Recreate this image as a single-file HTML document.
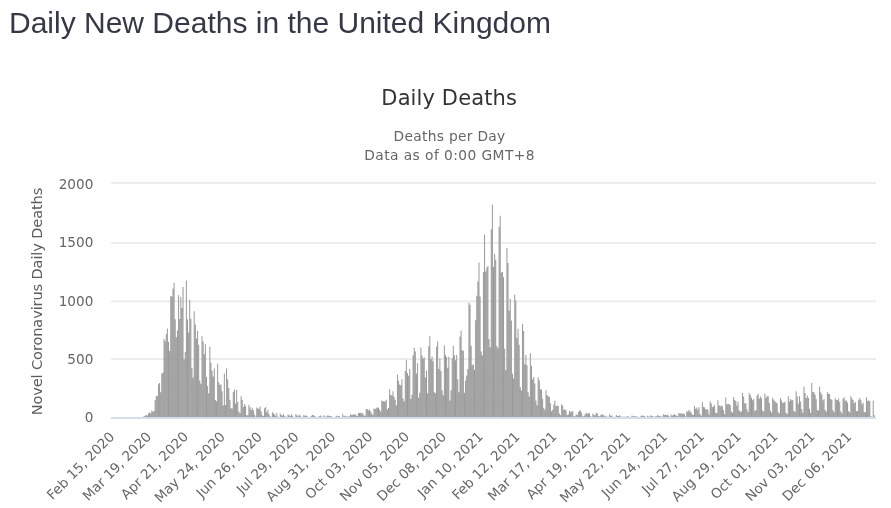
<!DOCTYPE html>
<html lang="en">
<head>
<meta charset="utf-8">
<title>Daily New Deaths in the United Kingdom</title>
<style>
html,body{margin:0;padding:0;background:#fff;}
body{width:891px;height:508px;overflow:hidden;position:relative;font-family:"Liberation Sans",Arial,sans-serif;}
h3{position:absolute;left:9px;top:5.7px;margin:0;font-family:"Liberation Sans",Arial,sans-serif;font-weight:400;font-size:30px;line-height:34px;color:#363945;white-space:nowrap;}
svg{position:absolute;left:0;top:0;font-family:"DejaVu Sans","Liberation Sans",sans-serif;}
.bars rect{fill:#999999;}
.ax text{font-size:13.6px;fill:#666666;}
</style>
</head>
<body>
<h3>Daily New Deaths in the United Kingdom</h3>
<svg width="891" height="508" viewBox="0 0 891 508">
<g class="grid">
<rect x="111.0" y="358.00" width="765.0" height="2" fill="#ececec"/>
<rect x="111.0" y="300.30" width="765.0" height="2" fill="#ececec"/>
<rect x="111.0" y="242.00" width="765.0" height="2" fill="#ececec"/>
<rect x="111.0" y="181.90" width="765.0" height="2" fill="#ececec"/>
</g>
<g class="bars">
<path fill="#999999" d="M133.39 417.3v-0.12h1.0v0.12zM134.51 417.3v-0.12h1.0v0.12zM136.74 417.3v-0.12h1.0v0.12zM137.86 417.3v-0.12h1.0v0.12zM138.98 417.3v-0.23h1.0v0.23zM140.09 417.3v-0.12h1.0v0.12zM141.21 417.3v-0.23h1.0v0.23zM142.33 417.3v-0.12h1.0v0.12zM143.45 417.3v-1.17h1.0v1.17zM144.56 417.3v-1.64h1.0v1.64zM145.68 417.3v-2.34h1.0v2.34zM146.80 417.3v-1.87h1.0v1.87zM147.91 417.3v-3.85h1.0v3.85zM149.03 417.3v-4.79h1.0v4.79zM150.15 417.3v-3.85h1.0v3.85zM151.26 417.3v-6.54h1.0v6.54zM152.38 417.3v-5.61h1.0v5.61zM153.50 417.3v-6.31h1.0v6.31zM154.61 417.3v-17.29h1.0v17.29zM155.73 417.3v-21.49h1.0v21.49zM156.85 417.3v-21.37h1.0v21.37zM157.96 417.3v-33.17h1.0v33.17zM159.08 417.3v-34.34h1.0v34.34zM160.20 417.3v-25.00h1.0v25.00zM161.31 417.3v-43.68h1.0v43.68zM162.43 417.3v-44.62h1.0v44.62zM163.55 417.3v-78.26h1.0v78.26zM164.66 417.3v-76.15h1.0v76.15zM165.78 417.3v-83.40h1.0v83.40zM166.90 417.3v-88.77h1.0v88.77zM168.01 417.3v-75.22h1.0v75.22zM169.13 417.3v-66.34h1.0v66.34zM170.25 417.3v-121.24h1.0v121.24zM171.36 417.3v-120.77h1.0v120.77zM172.48 417.3v-128.83h1.0v128.83zM173.60 417.3v-134.55h1.0v134.55zM174.72 417.3v-98.00h1.0v98.00zM175.83 417.3v-80.12h1.0v80.12zM176.95 417.3v-86.90h1.0v86.90zM178.07 417.3v-121.94h1.0v121.94zM179.18 417.3v-98.35h1.0v98.35zM180.30 417.3v-120.19h1.0v120.19zM181.42 417.3v-109.21h1.0v109.21zM182.53 417.3v-130.23h1.0v130.23zM183.65 417.3v-58.17h1.0v58.17zM184.77 417.3v-65.29h1.0v65.29zM185.88 417.3v-136.89h1.0v136.89zM187.00 417.3v-97.76h1.0v97.76zM188.12 417.3v-84.91h1.0v84.91zM189.23 417.3v-117.38h1.0v117.38zM190.35 417.3v-98.46h1.0v98.46zM191.47 417.3v-49.06h1.0v49.06zM192.58 417.3v-39.48h1.0v39.48zM193.70 417.3v-106.17h1.0v106.17zM194.82 417.3v-92.86h1.0v92.86zM195.93 417.3v-78.72h1.0v78.72zM197.05 417.3v-86.32h1.0v86.32zM198.17 417.3v-72.53h1.0v72.53zM199.28 417.3v-36.79h1.0v36.79zM200.40 417.3v-33.64h1.0v33.64zM201.52 417.3v-80.94h1.0v80.94zM202.64 417.3v-75.80h1.0v75.80zM203.75 417.3v-62.96h1.0v62.96zM204.87 417.3v-73.12h1.0v73.12zM205.99 417.3v-40.41h1.0v40.41zM207.10 417.3v-31.42h1.0v31.42zM208.22 417.3v-24.06h1.0v24.06zM209.34 417.3v-70.66h1.0v70.66zM210.45 417.3v-54.66h1.0v54.66zM211.57 417.3v-46.49h1.0v46.49zM212.69 417.3v-40.88h1.0v40.88zM213.80 417.3v-48.82h1.0v48.82zM214.92 417.3v-17.40h1.0v17.40zM216.04 417.3v-16.00h1.0v16.00zM217.15 417.3v-53.49h1.0v53.49zM218.27 417.3v-35.16h1.0v35.16zM219.39 417.3v-32.24h1.0v32.24zM220.50 417.3v-32.94h1.0v32.94zM221.62 417.3v-26.05h1.0v26.05zM222.74 417.3v-11.68h1.0v11.68zM223.85 417.3v-43.57h1.0v43.57zM224.97 417.3v-12.26h1.0v12.26zM226.09 417.3v-49.06h1.0v49.06zM227.20 417.3v-37.96h1.0v37.96zM228.32 417.3v-29.20h1.0v29.20zM229.44 417.3v-17.52h1.0v17.52zM230.55 417.3v-9.11h1.0v9.11zM231.67 417.3v-8.88h1.0v8.88zM232.79 417.3v-25.35h1.0v25.35zM233.91 417.3v-27.80h1.0v27.80zM235.02 417.3v-13.55h1.0v13.55zM236.14 417.3v-27.21h1.0v27.21zM237.26 417.3v-15.42h1.0v15.42zM238.37 417.3v-5.72h1.0v5.72zM239.49 417.3v-4.09h1.0v4.09zM240.61 417.3v-21.02h1.0v21.02zM241.72 417.3v-17.29h1.0v17.29zM242.84 417.3v-10.28h1.0v10.28zM243.96 417.3v-13.20h1.0v13.20zM245.07 417.3v-11.21h1.0v11.21zM246.19 417.3v-2.10h1.0v2.10zM247.31 417.3v-2.10h1.0v2.10zM248.42 417.3v-12.50h1.0v12.50zM249.54 417.3v-9.93h1.0v9.93zM250.66 417.3v-7.36h1.0v7.36zM251.77 417.3v-9.58h1.0v9.58zM252.89 417.3v-7.12h1.0v7.12zM254.01 417.3v-2.45h1.0v2.45zM255.12 417.3v-0.82h1.0v0.82zM256.24 417.3v-9.81h1.0v9.81zM257.36 417.3v-8.88h1.0v8.88zM258.47 417.3v-8.64h1.0v8.64zM259.59 417.3v-10.86h1.0v10.86zM260.71 417.3v-5.84h1.0v5.84zM261.82 417.3v-2.10h1.0v2.10zM262.94 417.3v-1.40h1.0v1.40zM264.06 417.3v-9.11h1.0v9.11zM265.18 417.3v-10.28h1.0v10.28zM266.29 417.3v-5.14h1.0v5.14zM267.41 417.3v-7.24h1.0v7.24zM268.53 417.3v-3.27h1.0v3.27zM269.64 417.3v-0.93h1.0v0.93zM270.76 417.3v-0.58h1.0v0.58zM271.88 417.3v-5.02h1.0v5.02zM272.99 417.3v-4.09h1.0v4.09zM274.11 417.3v-2.69h1.0v2.69zM275.23 417.3v-1.52h1.0v1.52zM276.34 417.3v-4.44h1.0v4.44zM277.46 417.3v-0.58h1.0v0.58zM278.58 417.3v-0.35h1.0v0.35zM279.69 417.3v-3.85h1.0v3.85zM280.81 417.3v-2.34h1.0v2.34zM281.93 417.3v-1.87h1.0v1.87zM283.04 417.3v-3.15h1.0v3.15zM284.16 417.3v-1.05h1.0v1.05zM285.28 417.3v-0.70h1.0v0.70zM286.39 417.3v-0.23h1.0v0.23zM287.51 417.3v-2.92h1.0v2.92zM288.63 417.3v-1.99h1.0v1.99zM289.74 417.3v-1.40h1.0v1.40zM290.86 417.3v-3.15h1.0v3.15zM291.98 417.3v-1.52h1.0v1.52zM293.09 417.3v-0.35h1.0v0.35zM294.21 417.3v-0.12h1.0v0.12zM295.33 417.3v-2.92h1.0v2.92zM296.45 417.3v-1.99h1.0v1.99zM297.56 417.3v-0.93h1.0v0.93zM298.68 417.3v-2.80h1.0v2.80zM299.80 417.3v-1.52h1.0v1.52zM300.91 417.3v-0.58h1.0v0.58zM302.03 417.3v-0.12h1.0v0.12zM303.15 417.3v-2.10h1.0v2.10zM304.26 417.3v-1.64h1.0v1.64zM305.38 417.3v-2.10h1.0v2.10zM306.50 417.3v-1.40h1.0v1.40zM307.61 417.3v-0.35h1.0v0.35zM308.73 417.3v-0.58h1.0v0.58zM309.85 417.3v-0.12h1.0v0.12zM310.96 417.3v-1.52h1.0v1.52zM312.08 417.3v-2.34h1.0v2.34zM313.20 417.3v-2.10h1.0v2.10zM314.31 417.3v-1.28h1.0v1.28zM315.43 417.3v-0.35h1.0v0.35zM316.55 417.3v-0.58h1.0v0.58zM317.66 417.3v-0.35h1.0v0.35zM318.78 417.3v-1.40h1.0v1.40zM319.90 417.3v-1.87h1.0v1.87zM321.01 417.3v-0.70h1.0v0.70zM322.13 417.3v-0.23h1.0v0.23zM323.25 417.3v-2.10h1.0v2.10zM324.36 417.3v-0.70h1.0v0.70zM325.48 417.3v-0.47h1.0v0.47zM326.60 417.3v-1.87h1.0v1.87zM327.72 417.3v-1.87h1.0v1.87zM328.83 417.3v-1.40h1.0v1.40zM329.95 417.3v-1.05h1.0v1.05zM331.07 417.3v-1.40h1.0v1.40zM332.18 417.3v-0.12h1.0v0.12zM333.30 417.3v-0.23h1.0v0.23zM334.42 417.3v-0.35h1.0v0.35zM335.53 417.3v-1.17h1.0v1.17zM336.65 417.3v-1.52h1.0v1.52zM337.77 417.3v-1.17h1.0v1.17zM338.88 417.3v-1.40h1.0v1.40zM340.00 417.3v-0.23h1.0v0.23zM341.12 417.3v-0.35h1.0v0.35zM342.23 417.3v-3.50h1.0v3.50zM343.35 417.3v-0.93h1.0v0.93zM344.47 417.3v-1.64h1.0v1.64zM345.58 417.3v-0.70h1.0v0.70zM346.70 417.3v-1.05h1.0v1.05zM347.82 417.3v-0.58h1.0v0.58zM348.93 417.3v-1.05h1.0v1.05zM350.05 417.3v-3.15h1.0v3.15zM351.17 417.3v-2.34h1.0v2.34zM352.28 417.3v-2.45h1.0v2.45zM353.40 417.3v-3.15h1.0v3.15zM354.52 417.3v-3.15h1.0v3.15zM355.64 417.3v-2.10h1.0v2.10zM356.75 417.3v-1.28h1.0v1.28zM357.87 417.3v-4.32h1.0v4.32zM358.99 417.3v-4.32h1.0v4.32zM360.10 417.3v-4.67h1.0v4.67zM361.22 417.3v-4.09h1.0v4.09zM362.34 417.3v-3.97h1.0v3.97zM363.45 417.3v-1.99h1.0v1.99zM364.57 417.3v-1.52h1.0v1.52zM365.69 417.3v-8.29h1.0v8.29zM366.80 417.3v-8.29h1.0v8.29zM367.92 417.3v-6.89h1.0v6.89zM369.04 417.3v-7.71h1.0v7.71zM370.15 417.3v-5.72h1.0v5.72zM371.27 417.3v-3.85h1.0v3.85zM372.39 417.3v-2.22h1.0v2.22zM373.50 417.3v-8.88h1.0v8.88zM374.62 417.3v-8.18h1.0v8.18zM375.74 417.3v-8.99h1.0v8.99zM376.85 417.3v-10.16h1.0v10.16zM377.97 417.3v-9.46h1.0v9.46zM379.09 417.3v-7.59h1.0v7.59zM380.20 417.3v-5.84h1.0v5.84zM381.32 417.3v-16.70h1.0v16.70zM382.44 417.3v-16.00h1.0v16.00zM383.55 417.3v-16.12h1.0v16.12zM384.67 417.3v-15.88h1.0v15.88zM385.79 417.3v-17.52h1.0v17.52zM386.91 417.3v-7.83h1.0v7.83zM388.02 417.3v-9.34h1.0v9.34zM389.14 417.3v-28.15h1.0v28.15zM390.26 417.3v-22.31h1.0v22.31zM391.37 417.3v-22.08h1.0v22.08zM392.49 417.3v-26.16h1.0v26.16zM393.61 417.3v-20.32h1.0v20.32zM394.72 417.3v-17.64h1.0v17.64zM395.84 417.3v-11.91h1.0v11.91zM396.96 417.3v-42.87h1.0v42.87zM398.07 417.3v-36.21h1.0v36.21zM399.19 417.3v-32.70h1.0v32.70zM400.31 417.3v-32.00h1.0v32.00zM401.42 417.3v-38.08h1.0v38.08zM402.54 417.3v-18.92h1.0v18.92zM403.66 417.3v-15.88h1.0v15.88zM404.77 417.3v-46.37h1.0v46.37zM405.89 417.3v-57.47h1.0v57.47zM407.01 417.3v-44.15h1.0v44.15zM408.12 417.3v-41.46h1.0v41.46zM409.24 417.3v-48.24h1.0v48.24zM410.36 417.3v-18.22h1.0v18.22zM411.47 417.3v-22.66h1.0v22.66zM412.59 417.3v-62.14h1.0v62.14zM413.71 417.3v-69.50h1.0v69.50zM414.82 417.3v-65.76h1.0v65.76zM415.94 417.3v-43.92h1.0v43.92zM417.06 417.3v-53.96h1.0v53.96zM418.18 417.3v-19.62h1.0v19.62zM419.29 417.3v-24.88h1.0v24.88zM420.41 417.3v-69.85h1.0v69.85zM421.53 417.3v-61.79h1.0v61.79zM422.64 417.3v-58.52h1.0v58.52zM423.76 417.3v-59.68h1.0v59.68zM424.88 417.3v-39.83h1.0v39.83zM425.99 417.3v-46.49h1.0v46.49zM427.11 417.3v-24.06h1.0v24.06zM428.23 417.3v-71.01h1.0v71.01zM429.34 417.3v-81.29h1.0v81.29zM430.46 417.3v-58.17h1.0v58.17zM431.58 417.3v-60.85h1.0v60.85zM432.69 417.3v-55.95h1.0v55.95zM433.81 417.3v-25.11h1.0v25.11zM434.93 417.3v-23.94h1.0v23.94zM436.04 417.3v-70.43h1.0v70.43zM437.16 417.3v-75.69h1.0v75.69zM438.28 417.3v-48.36h1.0v48.36zM439.39 417.3v-58.87h1.0v58.87zM440.51 417.3v-46.37h1.0v46.37zM441.63 417.3v-26.98h1.0v26.98zM442.74 417.3v-22.08h1.0v22.08zM443.86 417.3v-71.95h1.0v71.95zM444.98 417.3v-62.25h1.0v62.25zM446.09 417.3v-60.27h1.0v60.27zM447.21 417.3v-49.52h1.0v49.52zM448.33 417.3v-60.62h1.0v60.62zM449.45 417.3v-16.82h1.0v16.82zM450.56 417.3v-27.10h1.0v27.10zM451.68 417.3v-59.10h1.0v59.10zM452.80 417.3v-71.48h1.0v71.48zM453.91 417.3v-62.14h1.0v62.14zM455.03 417.3v-57.12h1.0v57.12zM456.15 417.3v-62.37h1.0v62.37zM457.26 417.3v-38.08h1.0v38.08zM458.38 417.3v-25.11h1.0v25.11zM459.50 417.3v-80.71h1.0v80.71zM460.61 417.3v-86.90h1.0v86.90zM461.73 417.3v-67.04h1.0v67.04zM462.85 417.3v-66.58h1.0v66.58zM463.96 417.3v-24.53h1.0v24.53zM465.08 417.3v-36.91h1.0v36.91zM466.20 417.3v-41.70h1.0v41.70zM467.31 417.3v-48.36h1.0v48.36zM468.43 417.3v-114.58h1.0v114.58zM469.55 417.3v-112.60h1.0v112.60zM470.66 417.3v-71.60h1.0v71.60zM471.78 417.3v-51.98h1.0v51.98zM472.90 417.3v-53.03h1.0v53.03zM474.01 417.3v-47.54h1.0v47.54zM475.13 417.3v-96.94h1.0v96.94zM476.25 417.3v-121.59h1.0v121.59zM477.36 417.3v-135.72h1.0v135.72zM478.48 417.3v-154.76h1.0v154.76zM479.60 417.3v-120.89h1.0v120.89zM480.72 417.3v-65.76h1.0v65.76zM481.83 417.3v-61.79h1.0v61.79zM482.95 417.3v-145.18h1.0v145.18zM484.07 417.3v-182.68h1.0v182.68zM485.18 417.3v-145.77h1.0v145.77zM486.30 417.3v-149.50h1.0v149.50zM487.42 417.3v-151.26h1.0v151.26zM488.53 417.3v-78.37h1.0v78.37zM489.65 417.3v-69.96h1.0v69.96zM490.77 417.3v-188.05h1.0v188.05zM491.88 417.3v-212.58h1.0v212.58zM493.00 417.3v-150.67h1.0v150.67zM494.12 417.3v-163.64h1.0v163.64zM495.23 417.3v-157.45h1.0v157.45zM496.35 417.3v-71.25h1.0v71.25zM497.47 417.3v-69.15h1.0v69.15zM498.58 417.3v-190.50h1.0v190.50zM499.70 417.3v-201.48h1.0v201.48zM500.82 417.3v-144.72h1.0v144.72zM501.93 417.3v-145.42h1.0v145.42zM503.05 417.3v-140.16h1.0v140.16zM504.17 417.3v-68.56h1.0v68.56zM505.28 417.3v-47.42h1.0v47.42zM506.40 417.3v-169.24h1.0v169.24zM507.52 417.3v-154.41h1.0v154.41zM508.64 417.3v-106.87h1.0v106.87zM509.75 417.3v-118.44h1.0v118.44zM510.87 417.3v-96.71h1.0v96.71zM511.99 417.3v-43.57h1.0v43.57zM513.10 417.3v-38.89h1.0v38.89zM514.22 417.3v-122.87h1.0v122.87zM515.34 417.3v-116.92h1.0v116.92zM516.45 417.3v-79.19h1.0v79.19zM517.57 417.3v-88.53h1.0v88.53zM518.69 417.3v-72.53h1.0v72.53zM519.80 417.3v-30.13h1.0v30.13zM520.92 417.3v-26.86h1.0v26.86zM522.04 417.3v-93.32h1.0v93.32zM523.15 417.3v-86.20h1.0v86.20zM524.27 417.3v-53.03h1.0v53.03zM525.39 417.3v-62.25h1.0v62.25zM526.50 417.3v-51.98h1.0v51.98zM527.62 417.3v-25.11h1.0v25.11zM528.74 417.3v-20.79h1.0v20.79zM529.85 417.3v-64.01h1.0v64.01zM530.97 417.3v-51.63h1.0v51.63zM532.09 417.3v-37.73h1.0v37.73zM533.20 417.3v-40.30h1.0v40.30zM534.32 417.3v-33.87h1.0v33.87zM535.44 417.3v-16.82h1.0v16.82zM536.55 417.3v-12.15h1.0v12.15zM537.67 417.3v-40.06h1.0v40.06zM538.79 417.3v-36.79h1.0v36.79zM539.91 417.3v-28.27h1.0v28.27zM541.02 417.3v-27.56h1.0v27.56zM542.14 417.3v-18.45h1.0v18.45zM543.26 417.3v-9.58h1.0v9.58zM544.37 417.3v-7.59h1.0v7.59zM545.49 417.3v-26.98h1.0v26.98zM546.61 417.3v-22.19h1.0v22.19zM547.72 417.3v-21.14h1.0v21.14zM548.84 417.3v-20.44h1.0v20.44zM549.96 417.3v-14.13h1.0v14.13zM551.07 417.3v-6.07h1.0v6.07zM552.19 417.3v-7.48h1.0v7.48zM553.31 417.3v-12.85h1.0v12.85zM554.42 417.3v-16.47h1.0v16.47zM555.54 417.3v-11.10h1.0v11.10zM556.66 417.3v-11.80h1.0v11.80zM557.77 417.3v-11.21h1.0v11.21zM558.89 417.3v-3.85h1.0v3.85zM560.01 417.3v-1.99h1.0v1.99zM561.12 417.3v-13.08h1.0v13.08zM562.24 417.3v-11.45h1.0v11.45zM563.36 417.3v-7.36h1.0v7.36zM564.47 417.3v-8.18h1.0v8.18zM565.59 417.3v-6.77h1.0v6.77zM566.71 417.3v-2.22h1.0v2.22zM567.82 417.3v-2.69h1.0v2.69zM568.94 417.3v-6.54h1.0v6.54zM570.06 417.3v-5.02h1.0v5.02zM571.18 417.3v-5.96h1.0v5.96zM572.29 417.3v-6.07h1.0v6.07zM573.41 417.3v-1.17h1.0v1.17zM574.53 417.3v-1.17h1.0v1.17zM575.64 417.3v-3.04h1.0v3.04zM576.76 417.3v-2.34h1.0v2.34zM577.88 417.3v-5.26h1.0v5.26zM578.99 417.3v-6.19h1.0v6.19zM580.11 417.3v-7.01h1.0v7.01zM581.23 417.3v-4.67h1.0v4.67zM582.34 417.3v-0.82h1.0v0.82zM583.46 417.3v-1.52h1.0v1.52zM584.58 417.3v-2.69h1.0v2.69zM585.69 417.3v-4.44h1.0v4.44zM586.81 417.3v-3.50h1.0v3.50zM587.93 417.3v-3.97h1.0v3.97zM589.04 417.3v-4.09h1.0v4.09zM590.16 417.3v-1.17h1.0v1.17zM591.28 417.3v-0.47h1.0v0.47zM592.39 417.3v-3.85h1.0v3.85zM593.51 417.3v-2.57h1.0v2.57zM594.63 417.3v-2.10h1.0v2.10zM595.74 417.3v-4.67h1.0v4.67zM596.86 417.3v-3.74h1.0v3.74zM597.98 417.3v-1.28h1.0v1.28zM599.09 417.3v-0.70h1.0v0.70zM600.21 417.3v-1.99h1.0v1.99zM601.33 417.3v-3.39h1.0v3.39zM602.45 417.3v-2.57h1.0v2.57zM603.56 417.3v-1.75h1.0v1.75zM604.68 417.3v-0.82h1.0v0.82zM605.80 417.3v-1.64h1.0v1.64zM606.91 417.3v-0.12h1.0v0.12zM608.03 417.3v-0.47h1.0v0.47zM609.15 417.3v-3.15h1.0v3.15zM610.26 417.3v-1.52h1.0v1.52zM611.38 417.3v-1.75h1.0v1.75zM612.50 417.3v-0.58h1.0v0.58zM613.61 417.3v-0.23h1.0v0.23zM614.73 417.3v-0.47h1.0v0.47zM615.85 417.3v-2.34h1.0v2.34zM616.96 417.3v-1.28h1.0v1.28zM618.08 417.3v-1.28h1.0v1.28zM619.20 417.3v-1.99h1.0v1.99zM620.31 417.3v-0.82h1.0v0.82zM621.43 417.3v-0.47h1.0v0.47zM622.55 417.3v-0.58h1.0v0.58zM623.66 417.3v-0.82h1.0v0.82zM624.78 417.3v-0.35h1.0v0.35zM625.90 417.3v-0.82h1.0v0.82zM627.01 417.3v-1.05h1.0v1.05zM628.13 417.3v-0.70h1.0v0.70zM629.25 417.3v-0.58h1.0v0.58zM630.36 417.3v-0.35h1.0v0.35zM631.48 417.3v-1.75h1.0v1.75zM632.60 417.3v-1.05h1.0v1.05zM633.72 417.3v-1.17h1.0v1.17zM634.83 417.3v-1.17h1.0v1.17zM635.95 417.3v-0.82h1.0v0.82zM637.07 417.3v-0.70h1.0v0.70zM638.18 417.3v-0.12h1.0v0.12zM640.42 417.3v-1.40h1.0v1.40zM641.53 417.3v-2.10h1.0v2.10zM642.65 417.3v-1.28h1.0v1.28zM643.77 417.3v-1.52h1.0v1.52zM644.88 417.3v-0.47h1.0v0.47zM646.00 417.3v-0.12h1.0v0.12zM647.12 417.3v-1.52h1.0v1.52zM648.23 417.3v-0.70h1.0v0.70zM649.35 417.3v-0.82h1.0v0.82zM650.47 417.3v-1.99h1.0v1.99zM651.58 417.3v-1.40h1.0v1.40zM652.70 417.3v-0.93h1.0v0.93zM653.82 417.3v-0.35h1.0v0.35zM654.93 417.3v-1.17h1.0v1.17zM656.05 417.3v-1.05h1.0v1.05zM657.17 417.3v-2.22h1.0v2.22zM658.28 417.3v-1.28h1.0v1.28zM659.40 417.3v-1.64h1.0v1.64zM660.52 417.3v-0.70h1.0v0.70zM661.64 417.3v-0.58h1.0v0.58zM662.75 417.3v-3.15h1.0v3.15zM663.87 417.3v-2.22h1.0v2.22zM664.99 417.3v-2.45h1.0v2.45zM666.10 417.3v-2.10h1.0v2.10zM667.22 417.3v-2.69h1.0v2.69zM668.34 417.3v-1.28h1.0v1.28zM669.45 417.3v-0.35h1.0v0.35zM670.57 417.3v-2.69h1.0v2.69zM671.69 417.3v-1.64h1.0v1.64zM672.80 417.3v-2.57h1.0v2.57zM673.92 417.3v-3.15h1.0v3.15zM675.04 417.3v-2.10h1.0v2.10zM676.15 417.3v-1.75h1.0v1.75zM677.27 417.3v-1.05h1.0v1.05zM678.39 417.3v-4.32h1.0v4.32zM679.50 417.3v-3.85h1.0v3.85zM680.62 417.3v-4.09h1.0v4.09zM681.74 417.3v-3.39h1.0v3.39zM682.85 417.3v-3.97h1.0v3.97zM683.97 417.3v-3.04h1.0v3.04zM685.09 417.3v-0.70h1.0v0.70zM686.20 417.3v-5.84h1.0v5.84zM687.32 417.3v-5.72h1.0v5.72zM688.44 417.3v-7.36h1.0v7.36zM689.55 417.3v-5.72h1.0v5.72zM690.67 417.3v-4.79h1.0v4.79zM691.79 417.3v-2.92h1.0v2.92zM692.91 417.3v-2.22h1.0v2.22zM694.02 417.3v-11.21h1.0v11.21zM695.14 417.3v-8.53h1.0v8.53zM696.26 417.3v-9.81h1.0v9.81zM697.37 417.3v-7.48h1.0v7.48zM698.49 417.3v-10.04h1.0v10.04zM699.61 417.3v-3.27h1.0v3.27zM700.72 417.3v-1.64h1.0v1.64zM701.84 417.3v-15.30h1.0v15.30zM702.96 417.3v-10.63h1.0v10.63zM704.07 417.3v-9.93h1.0v9.93zM705.19 417.3v-7.94h1.0v7.94zM706.31 417.3v-8.29h1.0v8.29zM707.42 417.3v-7.59h1.0v7.59zM708.54 417.3v-2.80h1.0v2.80zM709.66 417.3v-16.12h1.0v16.12zM710.77 417.3v-13.90h1.0v13.90zM711.89 417.3v-10.04h1.0v10.04zM713.01 417.3v-10.75h1.0v10.75zM714.12 417.3v-12.03h1.0v12.03zM715.24 417.3v-4.56h1.0v4.56zM716.36 417.3v-4.32h1.0v4.32zM717.47 417.3v-17.05h1.0v17.05zM718.59 417.3v-12.15h1.0v12.15zM719.71 417.3v-10.98h1.0v10.98zM720.82 417.3v-11.68h1.0v11.68zM721.94 417.3v-10.86h1.0v10.86zM723.06 417.3v-7.12h1.0v7.12zM724.18 417.3v-3.04h1.0v3.04zM725.29 417.3v-19.86h1.0v19.86zM726.41 417.3v-12.96h1.0v12.96zM727.53 417.3v-13.20h1.0v13.20zM728.64 417.3v-13.32h1.0v13.32zM729.76 417.3v-12.15h1.0v12.15zM730.88 417.3v-5.72h1.0v5.72zM731.99 417.3v-4.67h1.0v4.67zM733.11 417.3v-20.32h1.0v20.32zM734.23 417.3v-17.40h1.0v17.40zM735.34 417.3v-16.35h1.0v16.35zM736.46 417.3v-11.68h1.0v11.68zM737.58 417.3v-15.53h1.0v15.53zM738.69 417.3v-7.12h1.0v7.12zM739.81 417.3v-5.61h1.0v5.61zM740.93 417.3v-5.84h1.0v5.84zM742.04 417.3v-24.18h1.0v24.18zM743.16 417.3v-20.79h1.0v20.79zM744.28 417.3v-14.13h1.0v14.13zM745.39 417.3v-14.02h1.0v14.02zM746.51 417.3v-7.94h1.0v7.94zM747.63 417.3v-5.26h1.0v5.26zM748.74 417.3v-24.41h1.0v24.41zM749.86 417.3v-22.31h1.0v22.31zM750.98 417.3v-19.51h1.0v19.51zM752.09 417.3v-17.17h1.0v17.17zM753.21 417.3v-18.22h1.0v18.22zM754.33 417.3v-6.54h1.0v6.54zM755.45 417.3v-7.12h1.0v7.12zM756.56 417.3v-21.61h1.0v21.61zM757.68 417.3v-23.48h1.0v23.48zM758.80 417.3v-18.45h1.0v18.45zM759.91 417.3v-20.79h1.0v20.79zM761.03 417.3v-19.16h1.0v19.16zM762.15 417.3v-6.54h1.0v6.54zM763.26 417.3v-5.72h1.0v5.72zM764.38 417.3v-23.71h1.0v23.71zM765.50 417.3v-19.39h1.0v19.39zM766.61 417.3v-21.26h1.0v21.26zM767.73 417.3v-21.02h1.0v21.02zM768.85 417.3v-14.25h1.0v14.25zM769.96 417.3v-6.54h1.0v6.54zM771.08 417.3v-4.67h1.0v4.67zM772.20 417.3v-19.51h1.0v19.51zM773.31 417.3v-17.52h1.0v17.52zM774.43 417.3v-16.00h1.0v16.00zM775.55 417.3v-14.83h1.0v14.83zM776.66 417.3v-14.13h1.0v14.13zM777.78 417.3v-5.02h1.0v5.02zM778.90 417.3v-3.85h1.0v3.85zM780.01 417.3v-19.39h1.0v19.39zM781.13 417.3v-16.70h1.0v16.70zM782.25 417.3v-14.25h1.0v14.25zM783.36 417.3v-14.83h1.0v14.83zM784.48 417.3v-15.53h1.0v15.53zM785.60 417.3v-4.44h1.0v4.44zM786.72 417.3v-3.27h1.0v3.27zM787.83 417.3v-21.14h1.0v21.14zM788.95 417.3v-15.88h1.0v15.88zM790.07 417.3v-18.34h1.0v18.34zM791.18 417.3v-16.94h1.0v16.94zM792.30 417.3v-17.29h1.0v17.29zM793.42 417.3v-6.66h1.0v6.66zM794.53 417.3v-5.26h1.0v5.26zM795.65 417.3v-26.05h1.0v26.05zM796.77 417.3v-20.91h1.0v20.91zM797.88 417.3v-13.43h1.0v13.43zM799.00 417.3v-21.02h1.0v21.02zM800.12 417.3v-15.77h1.0v15.77zM801.23 417.3v-8.41h1.0v8.41zM802.35 417.3v-4.44h1.0v4.44zM803.47 417.3v-30.72h1.0v30.72zM804.58 417.3v-24.18h1.0v24.18zM805.70 417.3v-19.27h1.0v19.27zM806.82 417.3v-21.72h1.0v21.72zM807.93 417.3v-19.39h1.0v19.39zM809.05 417.3v-8.64h1.0v8.64zM810.17 417.3v-4.67h1.0v4.67zM811.28 417.3v-34.22h1.0v34.22zM812.40 417.3v-25.35h1.0v25.35zM813.52 417.3v-25.00h1.0v25.00zM814.64 417.3v-22.54h1.0v22.54zM815.75 417.3v-18.10h1.0v18.10zM816.87 417.3v-7.24h1.0v7.24zM817.99 417.3v-6.66h1.0v6.66zM819.10 417.3v-30.60h1.0v30.60zM820.22 417.3v-25.00h1.0v25.00zM821.34 417.3v-22.78h1.0v22.78zM822.45 417.3v-16.94h1.0v16.94zM823.57 417.3v-18.34h1.0v18.34zM824.69 417.3v-7.36h1.0v7.36zM825.80 417.3v-5.49h1.0v5.49zM826.92 417.3v-25.00h1.0v25.00zM828.04 417.3v-23.48h1.0v23.48zM829.15 417.3v-23.24h1.0v23.24zM830.27 417.3v-18.34h1.0v18.34zM831.39 417.3v-17.52h1.0v17.52zM832.50 417.3v-7.12h1.0v7.12zM833.62 417.3v-5.26h1.0v5.26zM834.74 417.3v-19.27h1.0v19.27zM835.85 417.3v-17.40h1.0v17.40zM836.97 417.3v-17.17h1.0v17.17zM838.09 417.3v-18.69h1.0v18.69zM839.20 417.3v-15.30h1.0v15.30zM840.32 417.3v-5.96h1.0v5.96zM841.44 417.3v-4.09h1.0v4.09zM842.55 417.3v-18.57h1.0v18.57zM843.67 417.3v-19.97h1.0v19.97zM844.79 417.3v-16.47h1.0v16.47zM845.91 417.3v-16.70h1.0v16.70zM847.02 417.3v-14.83h1.0v14.83zM848.14 417.3v-6.31h1.0v6.31zM849.26 417.3v-4.79h1.0v4.79zM850.37 417.3v-21.02h1.0v21.02zM851.49 417.3v-18.80h1.0v18.80zM852.61 417.3v-17.29h1.0v17.29zM853.72 417.3v-14.02h1.0v14.02zM854.84 417.3v-15.42h1.0v15.42zM855.96 417.3v-6.07h1.0v6.07zM857.07 417.3v-6.31h1.0v6.31zM858.19 417.3v-17.52h1.0v17.52zM859.31 417.3v-19.27h1.0v19.27zM860.42 417.3v-17.05h1.0v17.05zM861.54 417.3v-12.96h1.0v12.96zM862.66 417.3v-14.60h1.0v14.60zM863.77 417.3v-5.26h1.0v5.26zM864.89 417.3v-5.14h1.0v5.14zM866.01 417.3v-20.09h1.0v20.09zM867.12 417.3v-16.35h1.0v16.35zM868.24 417.3v-17.17h1.0v17.17zM869.36 417.3v-16.00h1.0v16.00zM870.47 417.3v-1.17h1.0v1.17zM871.59 417.3v-0.35h1.0v0.35zM872.71 417.3v-16.70h1.0v16.70zM873.82 417.3v-2.10h1.0v2.10z"/>
</g>
<rect x="111.0" y="417" width="765.0" height="2" fill="#d5dcec"/>
<text x="449.1" y="104.7" text-anchor="middle" font-size="21" fill="#333333" textLength="135.5">Daily Deaths</text>
<text x="449.4" y="140.6" text-anchor="middle" font-size="13.8" fill="#666666" textLength="111.7">Deaths per Day</text>
<text x="449.4" y="159.7" text-anchor="middle" font-size="13.8" fill="#666666" textLength="170.3">Data as of 0:00 GMT+8</text>
<text x="42.4" y="301.5" text-anchor="middle" font-size="14.6" fill="#5c5c5c" textLength="227.6" transform="rotate(-90 42.4 301.5)">Novel Coronavirus Daily Deaths</text>
<g class="ax">
<text x="93.3" y="421.75" text-anchor="end" font-size="13.7">0</text>
<text x="93.3" y="363.70" text-anchor="end" font-size="13.7">500</text>
<text x="93.3" y="305.80" text-anchor="end" font-size="13.7">1000</text>
<text x="93.3" y="246.75" text-anchor="end" font-size="13.7">1500</text>
<text x="93.3" y="188.70" text-anchor="end" font-size="13.7">2000</text>
<text x="115.36" y="437.5" text-anchor="end" transform="rotate(-45 115.36 437.5)">Feb 15, 2020</text>
<text x="152.21" y="437.5" text-anchor="end" transform="rotate(-45 152.21 437.5)">Mar 19, 2020</text>
<text x="189.07" y="437.5" text-anchor="end" transform="rotate(-45 189.07 437.5)">Apr 21, 2020</text>
<text x="225.92" y="437.5" text-anchor="end" transform="rotate(-45 225.92 437.5)">May 24, 2020</text>
<text x="262.77" y="437.5" text-anchor="end" transform="rotate(-45 262.77 437.5)">Jun 26, 2020</text>
<text x="299.63" y="437.5" text-anchor="end" transform="rotate(-45 299.63 437.5)">Jul 29, 2020</text>
<text x="336.48" y="437.5" text-anchor="end" transform="rotate(-45 336.48 437.5)">Aug 31, 2020</text>
<text x="373.34" y="437.5" text-anchor="end" transform="rotate(-45 373.34 437.5)">Oct 03, 2020</text>
<text x="410.19" y="437.5" text-anchor="end" transform="rotate(-45 410.19 437.5)">Nov 05, 2020</text>
<text x="447.04" y="437.5" text-anchor="end" transform="rotate(-45 447.04 437.5)">Dec 08, 2020</text>
<text x="483.90" y="437.5" text-anchor="end" transform="rotate(-45 483.90 437.5)">Jan 10, 2021</text>
<text x="520.75" y="437.5" text-anchor="end" transform="rotate(-45 520.75 437.5)">Feb 12, 2021</text>
<text x="557.61" y="437.5" text-anchor="end" transform="rotate(-45 557.61 437.5)">Mar 17, 2021</text>
<text x="594.46" y="437.5" text-anchor="end" transform="rotate(-45 594.46 437.5)">Apr 19, 2021</text>
<text x="631.31" y="437.5" text-anchor="end" transform="rotate(-45 631.31 437.5)">May 22, 2021</text>
<text x="668.17" y="437.5" text-anchor="end" transform="rotate(-45 668.17 437.5)">Jun 24, 2021</text>
<text x="705.02" y="437.5" text-anchor="end" transform="rotate(-45 705.02 437.5)">Jul 27, 2021</text>
<text x="741.88" y="437.5" text-anchor="end" transform="rotate(-45 741.88 437.5)">Aug 29, 2021</text>
<text x="778.73" y="437.5" text-anchor="end" transform="rotate(-45 778.73 437.5)">Oct 01, 2021</text>
<text x="815.58" y="437.5" text-anchor="end" transform="rotate(-45 815.58 437.5)">Nov 03, 2021</text>
<text x="852.44" y="437.5" text-anchor="end" transform="rotate(-45 852.44 437.5)">Dec 06, 2021</text>
</g>
</svg>
</body>
</html>
